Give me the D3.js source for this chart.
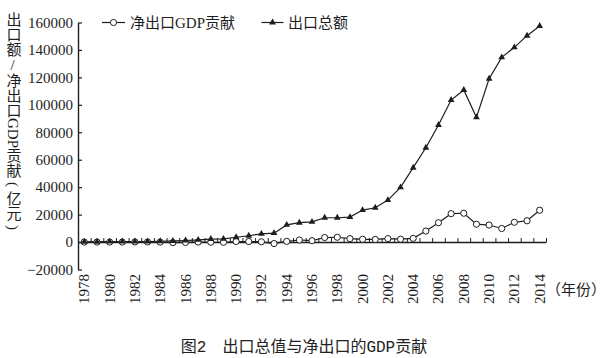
<!DOCTYPE html>
<html>
<head>
<meta charset="utf-8">
<script src="https://cdn.jsdelivr.net/npm/d3@7"></script>
<style>
  html, body { margin: 0; padding: 0; background: #fff; }
  #wrap { position: relative; width: 606px; height: 358px; }
  svg { display: block; }
  .serif { font-family: "Liberation Serif", "Noto Sans CJK SC", serif; }
  #ytitle {
    position: absolute; left: 4.5px; top: 12px;
    writing-mode: vertical-rl; text-orientation: mixed;
    font-family: "Liberation Serif", "Noto Sans CJK SC", serif;
    font-size: 15px; line-height: 16px; color: #1e1e1e;
    white-space: nowrap;
  }
  #ytitle .up { text-orientation: upright; }
  #ytitle .par { padding-inline: 4px; }
</style>
</head>
<body>
<div id="wrap">
<svg id="chart" width="606" height="358"></svg>
<div id="ytitle"></div>
</div>
<script>
// ---- data ----
const years = d3.range(1978, 2015);
const netExportGDP = [0, 0, 0, 0, 100, 50, 0, -400, -300, 0, -150, -200, 400, 400, 200, -1100,
  500, 1500, 1000, 3300, 3500, 2500, 2000, 1900, 2500, 2100, 2700, 8000, 14100, 20700, 21000,
  13000, 12400, 9900, 14400, 15500, 23200];
const exportTotal = [200, 200, 300, 400, 400, 400, 600, 800, 1100, 1600, 2200, 2300, 3500, 4600,
  6000, 6500, 12500, 14100, 14700, 17700, 17700, 18200, 23300, 25000, 30600, 39900, 54200, 68700,
  85300, 103500, 110800, 90900, 119000, 134600, 141900, 150400, 157500];
const yTicks = [-20000, 0, 20000, 40000, 60000, 80000, 100000, 120000, 140000, 160000];
const xLabelYears = d3.range(1978, 2015, 2);
const seriesNames = ["净出口GDP贡献", "出口总额"];
// title pieces: [text, class]
const yTitleParts = [["出口额", ""], ["/", "up"], ["净出口GDP贡献", ""], ["(", "par"], ["亿元", ""], [")", "par"]];
const xUnit = "（年份）";
const caption = "图2　出口总值与净出口的GDP贡献";

// ---- layout ----
const ink = "#1e1e1e";
const svg = d3.select("#chart");
svg.append("rect").attr("width", 606).attr("height", 358).attr("fill", "#fff");

const x = d3.scaleLinear().domain([1977.5, 2014.5]).range([78, 546]);
const y = d3.scaleLinear().domain([-20000, 160000]).range([269.5, 22.5]);

// y axis
const yAxis = d3.axisLeft(y).tickValues(yTicks).tickSizeInner(-4).tickSizeOuter(0)
  .tickPadding(5).tickFormat(d3.format("d"));
const gy = svg.append("g").attr("transform", "translate(78,0)").call(yAxis);
gy.select(".domain").attr("stroke", ink).attr("stroke-width", 1.4);
gy.selectAll(".tick line").attr("stroke", ink).attr("stroke-width", 1.2);
gy.selectAll(".tick text").attr("class", "serif").attr("font-size", 15).attr("fill", ink);

// x axis at zero line, ticks between categories pointing up
const xAxis = d3.axisBottom(x).tickValues(d3.range(1977.5, 2015, 1)).tickSizeInner(-4)
  .tickSizeOuter(0).tickFormat("");
const gx = svg.append("g").attr("transform", `translate(0,${y(0)})`).call(xAxis);
gx.select(".domain").attr("stroke", ink).attr("stroke-width", 1.4);
gx.selectAll(".tick line").attr("stroke", ink).attr("stroke-width", 1);

// x labels (rotated) below plot
svg.append("g").selectAll("text").data(xLabelYears).join("text")
  .attr("class", "serif").attr("font-size", 15).attr("fill", ink)
  .attr("text-anchor", "end").attr("dominant-baseline", "central")
  .attr("transform", d => `translate(${x(d)},274) rotate(-90)`)
  .text(d => d);

svg.append("text").attr("class", "serif").attr("font-size", 15).attr("fill", ink)
  .attr("x", 546).attr("y", 290).attr("dominant-baseline", "central").text(xUnit);

// lines
const line = d3.line().x((d, i) => x(years[i])).y(d => y(d));
svg.append("path").datum(netExportGDP).attr("d", line).attr("fill", "none")
  .attr("stroke", ink).attr("stroke-width", 1.2);
svg.append("path").datum(exportTotal).attr("d", line).attr("fill", "none")
  .attr("stroke", ink).attr("stroke-width", 1.2);

const tri = d3.symbol().type(d3.symbolTriangle).size(20);
svg.append("g").selectAll("circle").data(netExportGDP).join("circle")
  .attr("cx", (d, i) => x(years[i])).attr("cy", d => y(d)).attr("r", 3.1)
  .attr("fill", "#fff").attr("stroke", ink).attr("stroke-width", 1);
svg.append("g").selectAll("path").data(exportTotal).join("path")
  .attr("d", tri).attr("fill", ink)
  .attr("transform", (d, i) => `translate(${x(years[i])},${y(d)})`);

// legend
const lg = svg.append("g");
lg.append("line").attr("x1", 102).attr("x2", 125).attr("y1", 22.5).attr("y2", 22.5)
  .attr("stroke", ink).attr("stroke-width", 1.2);
lg.append("circle").attr("cx", 113.5).attr("cy", 22.5).attr("r", 3.1)
  .attr("fill", "#fff").attr("stroke", ink).attr("stroke-width", 1);
lg.append("text").attr("class", "serif").attr("font-size", 15).attr("fill", ink)
  .attr("x", 130).attr("y", 22.5).attr("dominant-baseline", "central").text(seriesNames[0]);
lg.append("line").attr("x1", 261.5).attr("x2", 283.5).attr("y1", 22.5).attr("y2", 22.5)
  .attr("stroke", ink).attr("stroke-width", 1.2);
lg.append("path").attr("d", tri).attr("fill", ink).attr("transform", "translate(272.5,22.5)");
lg.append("text").attr("class", "serif").attr("font-size", 15).attr("fill", ink)
  .attr("x", 288).attr("y", 22.5).attr("dominant-baseline", "central").text(seriesNames[1]);

// y title (vertical, HTML for per-glyph orientation)
d3.select("#ytitle").selectAll("span").data(yTitleParts).join("span")
  .attr("class", d => d[1]).text(d => d[0]);

// caption
svg.append("text").attr("font-family", "'Liberation Mono', 'Noto Sans CJK SC', monospace")
  .attr("font-size", 16).attr("fill", "#222")
  .attr("x", 304).attr("y", 348).attr("text-anchor", "middle").attr("dominant-baseline", "central")
  .text(caption);
</script>
</body>
</html>
